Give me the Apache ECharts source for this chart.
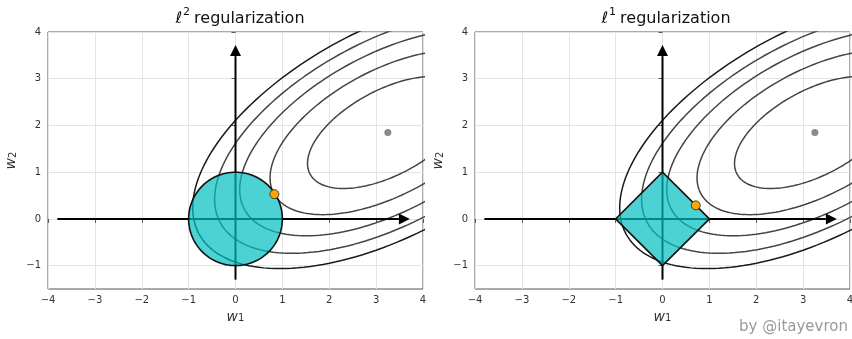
<!DOCTYPE html>
<html>
<head>
    <meta charset="utf-8">
    <script type="text/javascript" src="https://cdn.jsdelivr.net/npm/echarts@6.0.0/dist/echarts.min.js"></script>
    <title>l1 vs l2 regularization</title>
    <style>
        html, body { margin: 0; padding: 0; background: #fff; }
    </style>
</head>
<body>
    <div id="container" style="width:852px;height:339px;"></div>
    <script type="text/javascript">
    // tick labels
    var xTicks = [-4, -3, -2, -1, 0, 1, 2, 3, 4];
    var yTicks = [-1, 0, 1, 2, 3, 4];

    // loss contours: tilted ellipses around the unregularized optimum
    var lossCenter = [3.25, 1.85];
    var ellipseAngleDeg = 28.3;          // major axis tilt
    var ellipseAxes = [1.884, 0.909];    // semi axes at level 1
    var contourLevels = [1.0, 2.15, 3.4, 4.65, 5.9];

    // constraint regions
    var circleRadius = 1;
    var diamondVertices = [[1, 0], [0, 1], [-1, 0], [0, -1]];

    // solutions
    var l2Solution = [0.83, 0.53];
    var l1Solution = [0.71, 0.29];

    // axis arrows [start, tip]
    var arrowH = [[-3.8, 0], [3.72, 0]];
    var arrowV = [[0, -1.3], [0, 3.72]];

    var myChart = echarts.init(document.getElementById('container'), null, { renderer: 'canvas' });

    var FONT = 'DejaVu Sans';
    var gridColor = '#e4e4e4';

    function ellipsePoints(level) {
        var s = Math.sqrt(level);
        var a = ellipseAngleDeg * Math.PI / 180;
        var pts = [];
        for (var d = 0; d <= 360; d += 2) {
            var t = d * Math.PI / 180;
            var u = ellipseAxes[0] * s * Math.cos(t);
            var v = ellipseAxes[1] * s * Math.sin(t);
            pts.push([
                lossCenter[0] + u * Math.cos(a) - v * Math.sin(a),
                lossCenter[1] + u * Math.sin(a) + v * Math.cos(a)
            ]);
        }
        return pts;
    }

    function circlePoints() {
        var pts = [];
        for (var d = 0; d < 360; d += 3) {
            var t = d * Math.PI / 180;
            pts.push([circleRadius * Math.cos(t), circleRadius * Math.sin(t)]);
        }
        return pts;
    }

    // w with a subscript, as rich text
    var nameRich = {
        w: { fontFamily: FONT, fontSize: 14, fontStyle: 'italic', color: '#333', lineHeight: 14, padding: [0, 0, 4, 0], verticalAlign: 'top' },
        s: { fontFamily: FONT, fontSize: 10, color: '#333', lineHeight: 11, verticalAlign: 'bottom' }
    };

    function tickFmt(v) { return v < 0 ? '\u2212' + (-v) : String(v); }

    function xAxisFor(gi) {
        return {
            type: 'value', gridIndex: gi, min: -4, max: 4, interval: 1,
            name: '{w|w}{s|1}', nameLocation: 'middle', nameGap: 15,
            nameTextStyle: { rich: nameRich },
            axisLine: { show: false },
            axisTick: { show: true, length: 4, lineStyle: { color: '#555' } },
            axisLabel: { fontFamily: FONT, fontSize: 10, color: '#333', margin: 6, formatter: tickFmt },
            splitLine: { show: true, lineStyle: { color: gridColor, width: 1 } }
        };
    }

    function yAxisFor(gi) {
        return {
            type: 'value', gridIndex: gi, min: -1.5, max: 4,
            name: '{w|w}{s|2}', nameLocation: 'middle', nameGap: 24, nameRotate: 90,
            nameTextStyle: { rich: nameRich },
            axisLine: { show: false },
            axisTick: { show: true, length: 4, customValues: yTicks, lineStyle: { color: '#555' } },
            axisLabel: { fontFamily: FONT, fontSize: 10, color: '#333', margin: 7, customValues: yTicks, formatter: tickFmt },
            splitLine: { show: true, lineStyle: { color: gridColor, width: 1 } }
        };
    }

    function polygonSeries(gi, pts) {
        return {
            type: 'custom', xAxisIndex: gi, yAxisIndex: gi, z: 4,
            data: [[0, 0]],
            renderItem: function (params, api) {
                return {
                    type: 'polygon',
                    shape: { points: pts.map(function (p) { return api.coord(p); }) },
                    style: { fill: 'rgba(0,191,191,0.7)', stroke: '#111', lineWidth: 1.6 }
                };
            }
        };
    }

    function arrowSeries(gi, arr) {
        return {
            type: 'custom', xAxisIndex: gi, yAxisIndex: gi, z: 3,
            data: [[0, 0]],
            renderItem: function (params, api) {
                var p0 = api.coord(arr[0]);
                var p1 = api.coord(arr[1]);
                var dx = p1[0] - p0[0], dy = p1[1] - p0[1];
                var len = Math.sqrt(dx * dx + dy * dy);
                var ux = dx / len, uy = dy / len;
                var headLen = 11, hw = 5.5;
                var bx = p1[0] - ux * headLen, by = p1[1] - uy * headLen;
                return {
                    type: 'group',
                    children: [{
                        type: 'line',
                        shape: { x1: p0[0], y1: p0[1], x2: bx, y2: by },
                        style: { stroke: '#000', lineWidth: 2 }
                    }, {
                        type: 'polygon',
                        shape: { points: [p1, [bx - uy * hw, by + ux * hw], [bx + uy * hw, by - ux * hw]] },
                        style: { fill: '#000' }
                    }]
                };
            }
        };
    }

    function seriesFor(gi, shapePts, solution) {
        var list = [];
        contourLevels.forEach(function (lv, i) {
            list.push({
                type: 'line', xAxisIndex: gi, yAxisIndex: gi, z: 2,
                data: ellipsePoints(lv), showSymbol: false, symbol: 'none',
                smooth: false, clip: true, silent: true,
                lineStyle: { color: i === contourLevels.length - 1 ? '#1a1a1a' : '#444', width: 1.5 }
            });
        });
        list.push(arrowSeries(gi, arrowH));
        list.push(arrowSeries(gi, arrowV));
        list.push(polygonSeries(gi, shapePts));
        list.push({
            type: 'scatter', xAxisIndex: gi, yAxisIndex: gi, z: 5,
            data: [lossCenter], symbolSize: 7,
            itemStyle: { color: '#8a8a8a', opacity: 1 }
        });
        list.push({
            type: 'scatter', xAxisIndex: gi, yAxisIndex: gi, z: 6,
            data: [solution], symbolSize: 9,
            itemStyle: { color: '#ffa500', borderColor: '#222', borderWidth: 0.8, opacity: 1 }
        });
        return list;
    }

    var titleRich = {
        l: { fontFamily: FONT, fontSize: 16, fontWeight: 'normal', fontStyle: 'italic', color: '#111', lineHeight: 20, verticalAlign: 'bottom' },
        s: { fontFamily: FONT, fontSize: 11, fontWeight: 'normal', color: '#111', lineHeight: 11, padding: [0, 4, 0, 1], verticalAlign: 'top' },
        t: { fontFamily: FONT, fontSize: 16, fontWeight: 'normal', color: '#111', lineHeight: 20, verticalAlign: 'bottom' }
    };

    var option = {
        animation: false,
        backgroundColor: '#fff',
        title: [{
            text: '{l|ℓ}{s|2}{t|regularization}', left: 235, top: 2, textAlign: 'center',
            textStyle: { fontWeight: 'normal', rich: titleRich }
        }, {
            text: '{l|ℓ}{s|1}{t|regularization}', left: 661, top: 2, textAlign: 'center',
            textStyle: { fontWeight: 'normal', rich: titleRich }
        }],
        grid: [
            { left: 48, top: 32, width: 375, height: 257, show: true, borderColor: '#555', borderWidth: 1, outerBoundsMode: 'none', containLabel: false },
            { left: 475, top: 32, width: 375, height: 257, show: true, borderColor: '#555', borderWidth: 1, outerBoundsMode: 'none', containLabel: false }
        ],
        xAxis: [xAxisFor(0), xAxisFor(1)],
        yAxis: [yAxisFor(0), yAxisFor(1)],
        graphic: [{
            type: 'text', right: 4, bottom: 4,
            style: { text: 'by @itayevron', fontFamily: FONT, fontSize: 15, fill: '#9a9a9a' }
        }],
        series: seriesFor(0, circlePoints(), l2Solution).concat(seriesFor(1, diamondVertices, l1Solution))
    };

    myChart.setOption(option);
    </script>
</body>
</html>
